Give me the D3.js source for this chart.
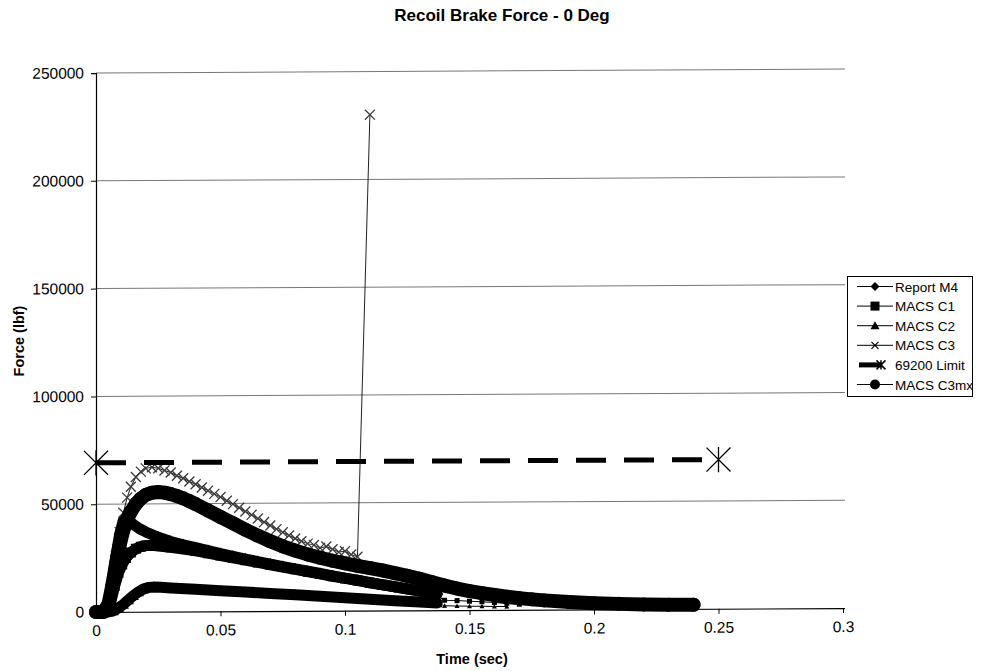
<!DOCTYPE html>
<html>
<head>
<meta charset="utf-8">
<script src="https://cdn.jsdelivr.net/npm/d3@7"></script>
<style>
  body { margin: 0; background: #fff; }
  svg text { font-family: "Liberation Sans", Arial, sans-serif; fill: #000; }
</style>
</head>
<body>
<svg id="chart" width="1007" height="671"></svg>
<script>
// ---- Data -------------------------------------------------------------
const chartTitle = "Recoil Brake Force - 0 Deg";
const xTitle = "Time (sec)";
const yTitle = "Force (lbf)";

const xTicks = [0, 0.05, 0.1, 0.15, 0.2, 0.25, 0.3];
const xTickLabels = ["0", "0.05", "0.1", "0.15", "0.2", "0.25", "0.3"];
const yTicks = [0, 50000, 100000, 150000, 200000, 250000];
const yTickLabels = ["0", "50000", "100000", "150000", "200000", "250000"];

const seriesNames = ["Report M4", "MACS C1", "MACS C2", "MACS C3", "69200 Limit", "MACS C3mx"];

// Report M4 (sec, lbf)
const m4Time  = [0, 0.003, 0.005, 0.0065, 0.008, 0.0095, 0.011, 0.0125, 0.015, 0.0175, 0.02, 0.025, 0.03, 0.035, 0.04, 0.045, 0.05, 0.055, 0.06, 0.065, 0.07, 0.075, 0.08, 0.085, 0.09, 0.095, 0.1, 0.105, 0.11, 0.115, 0.12, 0.125, 0.13, 0.135, 0.137];
const m4Force = [0, 0, 4000, 14000, 26000, 36000, 42500, 43000, 40500, 38500, 37000, 34500, 32500, 31000, 29600, 28200, 26800, 25500, 24200, 23000, 21800, 20600, 19500, 18400, 17300, 16200, 15100, 14100, 13000, 12000, 11000, 10000, 9000, 8000, 7500];

// MACS C1
const c1Time  = [0, 0.004, 0.006, 0.0075, 0.009, 0.0105, 0.012, 0.014, 0.016, 0.018, 0.02, 0.0225, 0.025, 0.03, 0.035, 0.04, 0.045, 0.05, 0.055, 0.06, 0.065, 0.07, 0.075, 0.08, 0.085, 0.09, 0.095, 0.1, 0.105, 0.11, 0.115, 0.12, 0.125, 0.13, 0.135];
const c1Force = [0, 0, 5000, 12000, 18000, 22000, 25000, 27500, 29200, 30200, 30700, 30800, 30500, 29800, 29000, 28100, 27000, 25900, 24800, 23700, 22600, 21500, 20400, 19300, 18200, 17100, 16000, 15000, 14000, 12900, 11900, 10900, 9900, 8900, 7900];
const c1TailTime  = [0.135, 0.14, 0.145, 0.15, 0.155, 0.16, 0.165, 0.17];
const c1TailForce = [7900, 4600, 4400, 4100, 3800, 3400, 3000, 2600];

// MACS C2
const c2Time  = [0, 0.005, 0.007, 0.009, 0.011, 0.013, 0.015, 0.017, 0.019, 0.021, 0.023, 0.026, 0.03, 0.04, 0.05, 0.06, 0.07, 0.08, 0.09, 0.1, 0.11, 0.12, 0.13, 0.137];
const c2Force = [0, 0, 500, 1800, 3500, 5500, 7500, 9200, 10500, 11200, 11400, 11300, 11000, 10300, 9600, 8900, 8200, 7500, 6800, 6000, 5200, 4500, 3800, 3400];
const c2TailTime  = [0.137, 0.14, 0.145, 0.15, 0.155, 0.16, 0.165];
const c2TailForce = [3400, 2000, 1900, 1800, 1700, 1600, 1500];

// MACS C3 (last sample is the spike)
const c3Time  = [0, 0.003, 0.005, 0.0065, 0.008, 0.0095, 0.011, 0.0125, 0.014, 0.016, 0.018, 0.02, 0.0225, 0.025, 0.0275, 0.03, 0.0325, 0.035, 0.0375, 0.04, 0.0425, 0.045, 0.0475, 0.05, 0.0525, 0.055, 0.0575, 0.06, 0.0625, 0.065, 0.0675, 0.07, 0.0725, 0.075, 0.0775, 0.08, 0.0825, 0.085, 0.0875, 0.09, 0.0925, 0.095, 0.0975, 0.1, 0.1025, 0.105, 0.11];
const c3Force = [0, 0, 4000, 14000, 26000, 37000, 46000, 53000, 58000, 62500, 65000, 66500, 67000, 66500, 65500, 64500, 63000, 61800, 60300, 59000, 57500, 56000, 54500, 53000, 51300, 49700, 48000, 46300, 44700, 43000, 41300, 39700, 38000, 36500, 35000, 33600, 32300, 31200, 30500, 29200, 29800, 28500, 27200, 27600, 26000, 25000, 230000];

// 69200 lbf limit
const limitTime  = [0, 0.25];
const limitForce = [69200, 69200];

// MACS C3mx
const c3mxTime  = [0, 0.003, 0.005, 0.0065, 0.008, 0.0095, 0.011, 0.0125, 0.014, 0.016, 0.018, 0.02, 0.0225, 0.025, 0.0275, 0.03, 0.0325, 0.035, 0.0375, 0.04, 0.045, 0.05, 0.055, 0.06, 0.065, 0.07, 0.075, 0.08, 0.085, 0.09, 0.095, 0.1, 0.105, 0.11, 0.115, 0.12, 0.125, 0.13, 0.135, 0.14, 0.145, 0.15, 0.155, 0.16, 0.165, 0.17, 0.175, 0.18, 0.19, 0.2, 0.21, 0.22, 0.23, 0.24];
const c3mxForce = [0, 0, 3500, 12000, 22000, 31000, 38000, 43000, 46500, 50000, 52500, 54200, 55200, 55500, 55200, 54500, 53600, 52500, 51200, 49800, 46800, 43800, 40800, 37800, 35000, 32400, 30000, 28000, 26200, 24600, 23200, 22000, 20800, 19700, 18600, 17300, 16000, 14600, 13000, 11400, 10000, 8800, 7800, 6900, 6100, 5400, 4800, 4300, 3500, 2900, 2500, 2200, 2000, 1900];

// ---- Layout -----------------------------------------------------------
const svg = d3.select("#chart");
const plot = { left: 96, right: 843, top: 73, bottom: 612, gridRight: 845 };

const x = d3.scaleLinear().domain([0, 0.3]).range([plot.left, plot.right]);
const y = d3.scaleLinear().domain([0, 250000]).range([plot.bottom, plot.top]);

const zip = (ts, fs) => ts.map((t, i) => [t, fs[i]]);
const line = d3.line().x(d => x(d[0])).y(d => y(d[1]));

// Title
svg.append("text")
  .attr("x", 502).attr("y", 21)
  .attr("text-anchor", "middle")
  .style("font-size", "17px").style("font-weight", "bold")
  .text(chartTitle);

// The plotting area sits with a slight upward lean to the right
const area = svg.append("g")
  .attr("transform", `translate(${plot.left},${plot.bottom}) skewY(-0.3) translate(${-plot.left},${-plot.bottom})`);

// Horizontal gridlines
area.append("g").selectAll("line")
  .data(yTicks.filter(v => v > 0))
  .join("line")
  .attr("x1", plot.left).attr("x2", plot.gridRight)
  .attr("y1", d => y(d)).attr("y2", d => y(d))
  .attr("stroke", "#777").attr("stroke-width", 1);

// Axes
const yAxis = d3.axisLeft(y).tickValues(yTicks)
  .tickFormat((d, i) => yTickLabels[i]).tickSize(5).tickPadding(7);
const gy = area.append("g").attr("transform", `translate(${plot.left},0)`).call(yAxis);

const xAxis = d3.axisBottom(x).tickValues(xTicks)
  .tickFormat((d, i) => xTickLabels[i]).tickSize(5).tickPadding(8);
const gx = area.append("g").attr("transform", `translate(0,${plot.bottom})`).call(xAxis);

[gx, gy].forEach(g => {
  g.select(".domain").attr("stroke", "#000").attr("stroke-width", 1.2);
  g.selectAll(".tick line").attr("stroke", "#000");
  g.selectAll(".tick text").style("font-size", "15.5px")
    .style("font-family", '"Liberation Sans", Arial, sans-serif').attr("fill", "#000");
});
gx.select(".domain").attr("d", `M${plot.left},0.5H${plot.gridRight}`);

// Axis titles
svg.append("text")
  .attr("x", 472).attr("y", 664)
  .attr("text-anchor", "middle")
  .style("font-size", "14.5px").style("font-weight", "bold")
  .text(xTitle);
svg.append("text")
  .attr("transform", "translate(24,341) rotate(-90)")
  .attr("text-anchor", "middle")
  .style("font-size", "14.5px").style("font-weight", "bold")
  .text(yTitle);

// ---- Series -----------------------------------------------------------
const marks = area.append("g");

function markerPath(kind, s) {
  const h = s / 2;
  switch (kind) {
    case "diamond":  return `M0,${-h}L${h},0L0,${h}L${-h},0Z`;
    case "square":   return `M${-h},${-h}H${h}V${h}H${-h}Z`;
    case "triangle": return `M0,${-h}L${h},${h * 0.8}L${-h},${h * 0.8}Z`;
    case "circle":   return d3.symbol(d3.symbolCircle, Math.PI * h * h)();
    case "x":        return `M${-h},${-h}L${h},${h}M${-h},${h}L${h},${-h}`;
    case "star":     return `M${-h},${-h}L${h},${h}M${-h},${h}L${h},${-h}M0,${-h * 1.05}V${h * 1.05}`;
  }
}

function drawMarkers(g, pts, kind, size, stroke) {
  const filled = !(kind === "x" || kind === "star");
  g.selectAll(null).data(pts).join("path")
    .attr("transform", d => `translate(${x(d[0])},${y(d[1])})`)
    .attr("d", markerPath(kind, size))
    .attr("fill", filled ? "#000" : "none")
    .attr("stroke", stroke || "#000")
    .attr("stroke-width", filled ? 0 : 1.3);
}

// heavy band drawn from the densely sampled records
function drawBand(ts, fs, width, kind, size) {
  const pts = zip(ts, fs);
  marks.append("path").datum(pts)
    .attr("d", line).attr("fill", "none")
    .attr("stroke", "#000").attr("stroke-width", width)
    .attr("stroke-linejoin", "round").attr("stroke-linecap", "round");
  drawMarkers(marks.append("g"), pts, kind, size);
}

// sparse samples after the band
function drawTail(ts, fs, kind, size) {
  const pts = zip(ts, fs);
  marks.append("path").datum(pts)
    .attr("d", line).attr("fill", "none").attr("stroke", "#000").attr("stroke-width", 1);
  drawMarkers(marks.append("g"), pts.slice(1), kind, size);
}

drawBand(m4Time, m4Force, 11, "diamond", 12);
drawBand(c1Time, c1Force, 11, "square", 10);
drawTail(c1TailTime, c1TailForce, "square", 5);
drawBand(c2Time, c2Force, 11, "triangle", 11);
drawTail(c2TailTime, c2TailForce, "triangle", 5);

// MACS C3: thin line with crosses
const c3Pts = zip(c3Time, c3Force);
marks.append("path").datum(c3Pts)
  .attr("d", line).attr("fill", "none").attr("stroke", "#222").attr("stroke-width", 1);
drawMarkers(marks.append("g"), c3Pts, "x", 10, "#3a3a3a");

// Limit: heavy dashed line with star markers
const limitPts = zip(limitTime, limitForce);
marks.append("path").datum(limitPts)
  .attr("d", line).attr("fill", "none")
  .attr("stroke", "#000").attr("stroke-width", 5)
  .attr("stroke-dasharray", "30,18");
drawMarkers(marks.append("g"), limitPts, "star", 24);

drawBand(c3mxTime, c3mxForce, 14, "circle", 14);

// ---- Legend -----------------------------------------------------------
const legend = svg.append("g").attr("transform", "translate(847,276)");
legend.append("rect")
  .attr("x", 0.5).attr("y", 0.5).attr("width", 125).attr("height", 120)
  .attr("fill", "#fff").attr("stroke", "#000").attr("stroke-width", 1);

const legendKinds = ["diamond", "square", "triangle", "x", "star", "circle"];
seriesNames.forEach((name, i) => {
  const row = legend.append("g").attr("transform", `translate(0,${10.5 + i * 19.6})`);
  if (legendKinds[i] === "star") {
    row.append("line").attr("x1", 12).attr("x2", 34).attr("y1", 0).attr("y2", 0)
      .attr("stroke", "#000").attr("stroke-width", 5);
    row.append("path").attr("transform", "translate(34,0)")
      .attr("d", markerPath("star", 9)).attr("fill", "none")
      .attr("stroke", "#000").attr("stroke-width", 1.5);
  } else {
    row.append("line").attr("x1", 10).attr("x2", 46).attr("y1", 0).attr("y2", 0)
      .attr("stroke", "#000").attr("stroke-width", 1);
    const k = legendKinds[i];
    const s = k === "x" ? 7 : (k === "circle" ? 10 : 9);
    row.append("path").attr("transform", "translate(28,0)")
      .attr("d", markerPath(k, s))
      .attr("fill", k === "x" ? "none" : "#000")
      .attr("stroke", "#000").attr("stroke-width", k === "x" ? 1.2 : 0);
  }
  row.append("text").attr("x", 48).attr("y", 5)
    .style("font-size", "13.5px").text(name);
});
</script>
</body>
</html>
